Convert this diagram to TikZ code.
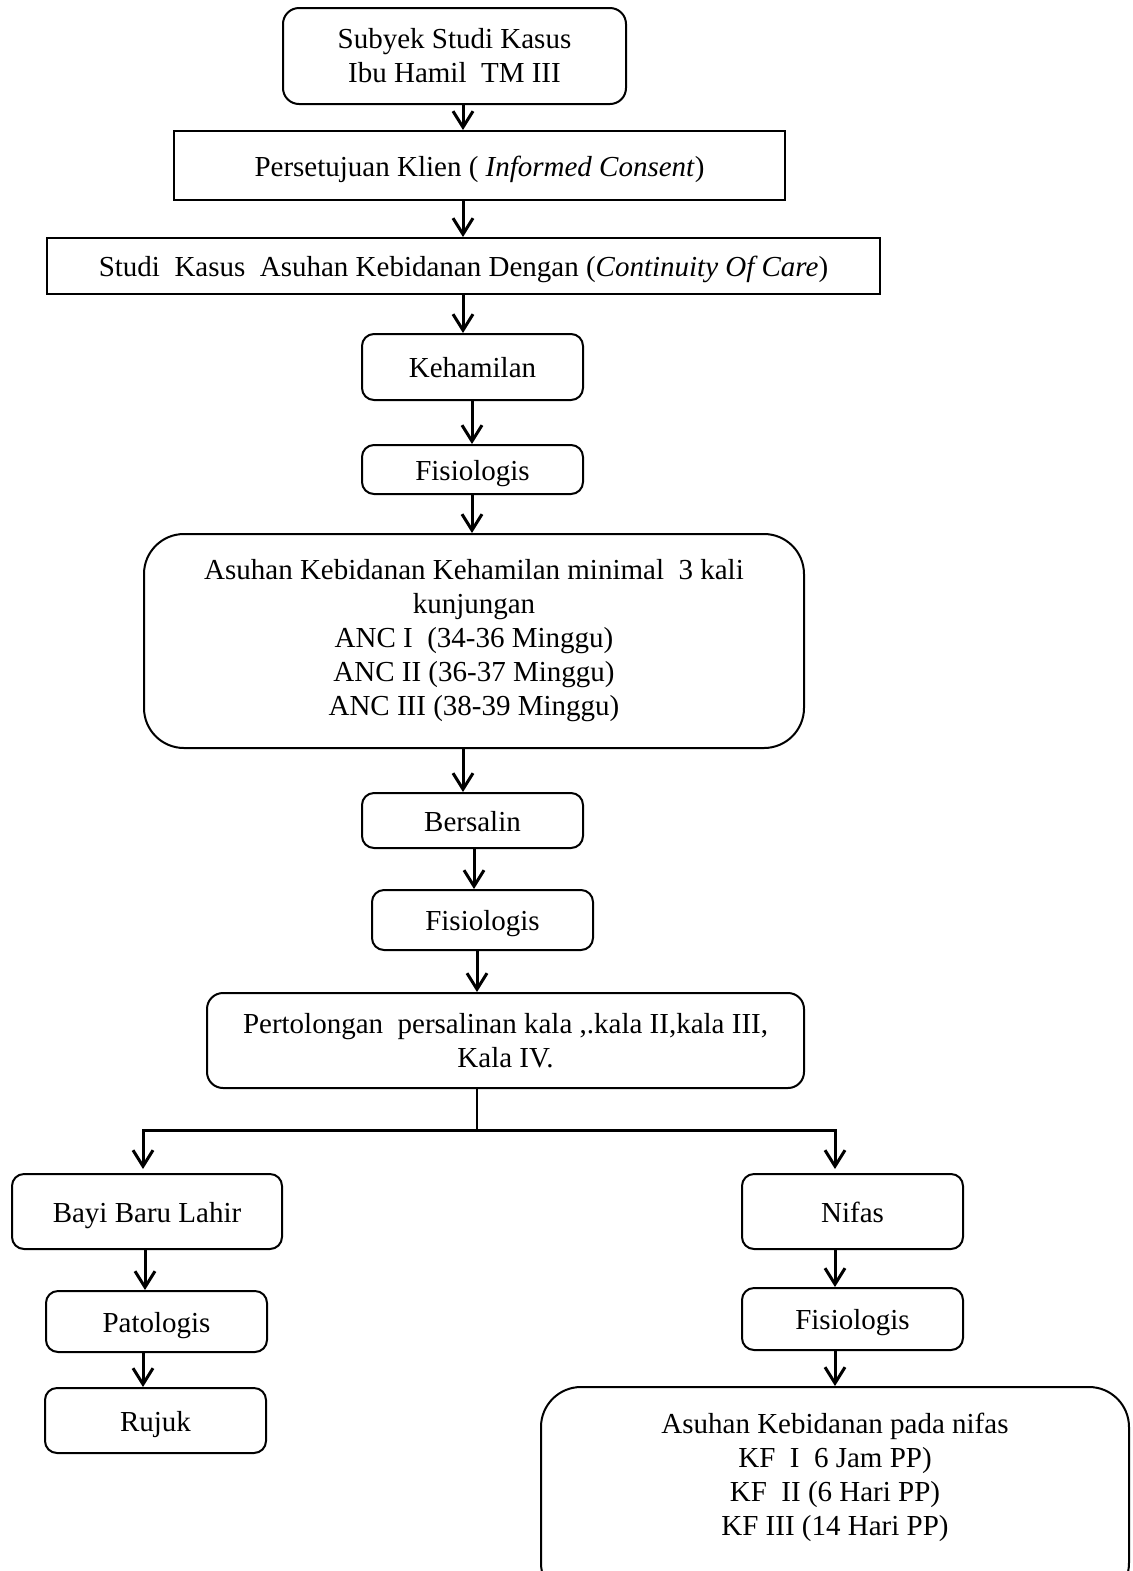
\documentclass[tikz,border=0pt]{standalone}
\usepackage{fontspec}
\setmainfont{Liberation Serif}
\usepackage{tikz}
\usetikzlibrary{arrows.meta,positioning}
\tikzset{
  ar/.style={-{Straight Barb[length=8pt,width=10pt,line width=1.5pt]},line width=1.5pt,black},
  boxs/.style={draw,line width=1pt,align=center,inner sep=0pt,font=\fontsize{14.5}{17}\selectfont},
  boxr/.style={boxs,rounded corners=6pt},
  boxbig/.style={boxs,rounded corners=20pt},
  one/.style={text height=12pt,text depth=1.5pt},
  txt/.style={align=center,inner sep=0pt,font=\fontsize{14.5}{17}\selectfont}
}

\begin{document}
\begin{tikzpicture}[x=0.5pt,y=-0.5pt]
\useasboundingbox (0,0) rectangle (1132,1571);
\clip (0,0) rectangle (1132,1571);
% main column
\node[boxr,rounded corners=8pt,minimum width=171.5pt,minimum height=48pt] (subyek) at (454.5,56) {Subyek Studi Kasus\\Ibu Hamil\ \ TM III};
\node[boxs,one,minimum width=305.5pt,minimum height=34.5pt] (setuju) at (479.5,165.5) {Persetujuan Klien ( \textit{Informed Consent})};
\node[boxs,one,minimum width=416.5pt,minimum height=28pt] (studi) at (463.5,266) {Studi\ \ Kasus\ \ Asuhan Kebidanan Dengan (\textit{Continuity Of Care})};
\node[boxr,one,minimum width=110.5pt,minimum height=33pt] (hamil) at (472.5,367) {Kehamilan};
\node[boxr,one,minimum width=110.5pt,minimum height=24.5pt] (fisioA) at (472.5,469.5) {Fisiologis};
\node[boxbig,minimum width=330pt,minimum height=107pt] (anc) at (474,641) {Asuhan Kebidanan Kehamilan minimal\ \ 3 kali\\kunjungan\\ANC I\ \ (34-36 Minggu)\\ANC II (36-37 Minggu)\\ANC III (38-39 Minggu)};
\node[boxr,one,minimum width=110.5pt,minimum height=27.5pt] (salin) at (472.5,820.5) {Bersalin};
\node[boxr,one,minimum width=110.5pt,minimum height=30pt] (fisioB) at (482.5,920) {Fisiologis};
\node[boxr,rounded corners=8pt,minimum width=298.5pt,minimum height=47.5pt] (tolong) at (505.5,1040.5) {Pertolongan\ \ persalinan kala ,.kala II,kala III,\\Kala IV.};
% left branch
\node[boxr,one,minimum width=135pt,minimum height=37.5pt] (bayi) at (147,1211.5) {Bayi Baru Lahir};
\node[boxr,one,minimum width=110.5pt,minimum height=30.5pt] (pato) at (156.5,1321.5) {Patologis};
\node[boxr,one,minimum width=110.5pt,minimum height=32.5pt] (rujuk) at (155.5,1420.5) {Rujuk};
% right branch
\node[boxr,one,minimum width=110.5pt,minimum height=37.5pt] (nifas) at (852.5,1211.5) {Nifas};
\node[boxr,one,minimum width=110.5pt,minimum height=31pt] (fisioC) at (852.5,1319) {Fisiologis};
\node[boxbig,minimum width=294pt,minimum height=108pt] (kf) at (835,1495) {};
\node[txt] (kftext) at (835,1477) {Asuhan Kebidanan pada nifas\\KF\ \ I\ \ 6 Jam PP)\\KF\ \ II (6 Hari PP)\\KF III (14 Hari PP)};
% arrows
\draw[ar] (463,0 |- subyek.south) -- (463,0 |- setuju.north);
\draw[ar] (463,0 |- setuju.south) -- (463,0 |- studi.north);
\draw[ar] (463,0 |- studi.south) -- (463,0 |- hamil.north);
\draw[ar] (472,0 |- hamil.south) -- (472,0 |- fisioA.north);
\draw[ar] (472,0 |- fisioA.south) -- (472,0 |- anc.north);
\draw[ar] (463,0 |- anc.south) -- (463,0 |- salin.north);
\draw[ar] (474,0 |- salin.south) -- (474,0 |- fisioB.north);
\draw[ar] (477,0 |- fisioB.south) -- (477,0 |- tolong.north);
\coordinate (split) at (477,1130);
\draw[line width=0.7pt] (split |- tolong.south) -- (split);
\draw[ar,shorten >=2pt] (split) -| (143,0 |- bayi.north);
\draw[ar,shorten >=2pt] (split) -| (835,0 |- nifas.north);
\draw[ar] (145,0 |- bayi.south) -- (145,0 |- pato.north);
\draw[ar] (143,0 |- pato.south) -- (143,0 |- rujuk.north);
\draw[ar] (835,0 |- nifas.south) -- (835,0 |- fisioC.north);
\draw[ar] (835,0 |- fisioC.south) -- (835,0 |- kf.north);
\end{tikzpicture}
\end{document}
